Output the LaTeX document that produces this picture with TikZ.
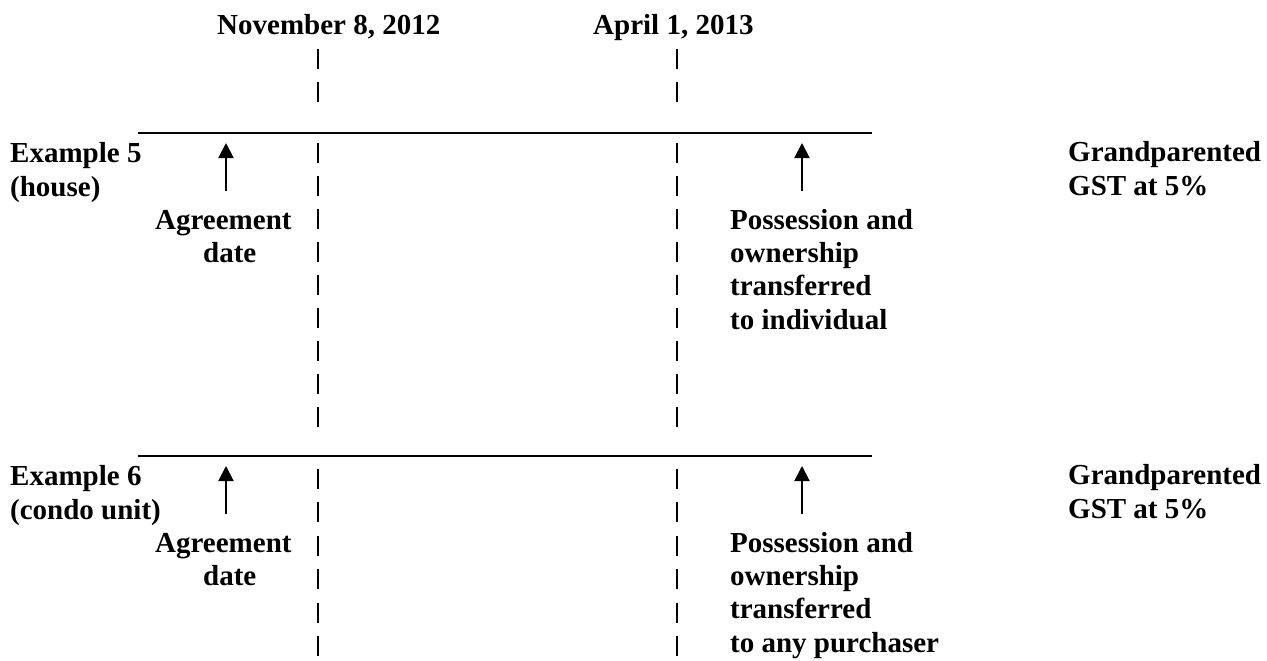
\documentclass[tikz,border=0pt]{standalone}
\usepackage{fontspec}
\setmainfont{Liberation Serif}
\usetikzlibrary{arrows.meta}
\tikzset{
  lbl/.style={font=\bfseries\fontsize{29}{33.4}\selectfont, inner sep=0pt, anchor=base west},
  pipemark/.style={line width=1.8pt},
  timeline/.style={line width=2.2pt},
  uparrow/.style={line width=2pt, -{Triangle[width=15pt,length=15pt]}}
}
\begin{document}
\begin{tikzpicture}[x=1pt,y=-1pt]
\useasboundingbox (0,0) rectangle (1267,661);
% dates
\node[lbl] (nov) at (217,35) {November 8, 2012};
\node[lbl] (apr) at (593,35) {April 1, 2013};
% top pipes
\foreach \yy in {58.8,92} {
  \draw[pipemark] (318,\yy-10) -- (318,\yy+10);
  \draw[pipemark] (677,\yy-10) -- (677,\yy+10);
}
% sections
\foreach \off/\ex/\what/\who/\sx in {0/Example 5/(house)/to individual/a, 323/Example 6/(condo unit)/to any purchaser/b} {
  \coordinate (ls\sx) at (138,133+\off);
  \coordinate (le\sx) at (872,133+\off);
  \draw[timeline] (ls\sx) -- (le\sx);
  \node[lbl] (ex\sx) at (10,162+\off) {\ex};
  \node[lbl] (kind\sx) at (10,196+\off) {\what};
  \node[lbl] (agr\sx) at (155,229+\off) {Agreement};
  \node[lbl] (date\sx) at (203,262+\off) {date};
  \node[lbl] (pos\sx) at (730,229+\off) {Possession and};
  \node[lbl] (own\sx) at (730,262.4+\off) {ownership};
  \node[lbl] (tra\sx) at (730,295.8+\off) {transferred};
  \node[lbl] (to\sx) at (730,329.2+\off) {\who};
  \node[lbl] (gra\sx) at (1068,161+\off) {Grandparented};
  \node[lbl] (gst\sx) at (1068,195+\off) {GST at 5\%};
  \coordinate (at\sx) at (226,191+\off);
  \coordinate (ah\sx) at (226,143+\off);
  \draw[uparrow] (at\sx) -- (ah\sx);
  \coordinate (pt\sx) at (802,191+\off);
  \coordinate (ph\sx) at (802,143+\off);
  \draw[uparrow] (pt\sx) -- (ph\sx);
}
% middle pipes
\foreach \i in {0,...,8} {
  \pgfmathsetmacro{\yy}{153+32.96*\i}
  \draw[pipemark] (318,\yy-10) -- (318,\yy+10);
  \draw[pipemark] (677,\yy-10) -- (677,\yy+10);
}
% bottom pipes
\foreach \i in {0,...,5} {
  \pgfmathsetmacro{\yy}{479+33.4*\i}
  \draw[pipemark] (318,\yy-10) -- (318,\yy+10);
  \draw[pipemark] (677,\yy-10) -- (677,\yy+10);
}
\end{tikzpicture}
\end{document}
